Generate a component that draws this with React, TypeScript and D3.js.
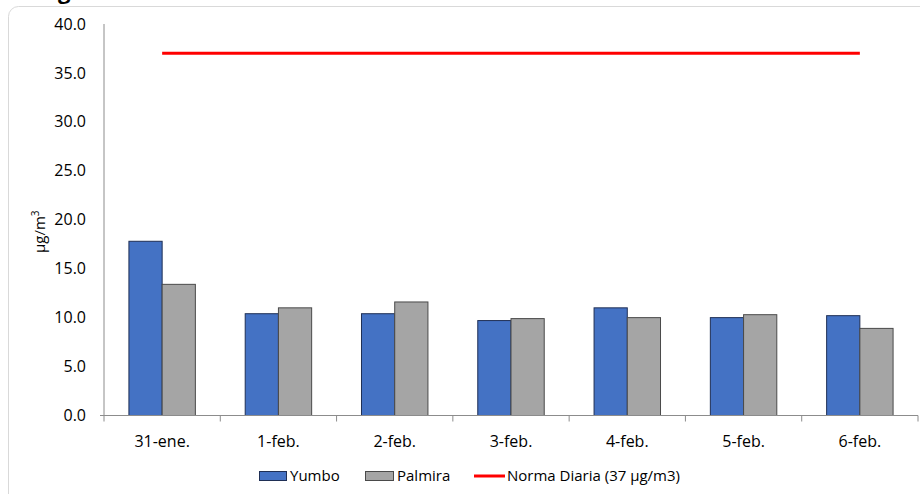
import React from "react";
import * as d3 from "d3";

const categories = ["31-ene.", "1-feb.", "2-feb.", "3-feb.", "4-feb.", "5-feb.", "6-feb."];
const yumbo = [17.8, 10.4, 10.4, 9.7, 11.0, 10.0, 10.2];
const palmira = [13.4, 11.0, 11.6, 9.9, 10.0, 10.3, 8.9];
const norma = [37, 37, 37, 37, 37, 37, 37];
const yTicks = [0, 5, 10, 15, 20, 25, 30, 35, 40];
const seriesNames = ["Yumbo", "Palmira", "Norma Diaria (37 µg/m3)"];

const W = 920;
const H = 494;
const left = 104;
const right = 918;
const top = 24;
const bottom = 415.5;
const font = "Open Sans, Noto Sans, sans-serif";

export default function App() {
  const x = d3.scaleBand<string>().domain(categories).range([left, right]).paddingInner(0).paddingOuter(0);
  const y = d3.scaleLinear().domain([0, 40]).range([bottom, top]);
  const bw = x.bandwidth();
  const barW = bw / 3.5;
  const line = d3
    .line<number>()
    .x((_, i) => (x(categories[i]) as number) + bw / 2)
    .y((d) => y(d));

  return (
    <svg
      width={W}
      height={H}
      style={{ position: "absolute", left: 0, top: 0, background: "#fff" }}
      fontFamily={font}
    >
      <rect x={8.5} y={6.5} width={940} height={520} rx={10} fill="#fff" stroke="#d9d9d9" strokeWidth={1} />
      <text x={58} y={-1} fontSize={22} fontWeight="bold" fill="#000">g</text>

      {/* y ticks */}
      {yTicks.map((t) => (
        <text key={t} x={86} y={y(t)} dy="0.35em" textAnchor="end" fontSize={16} fill="#000">
          {t.toFixed(1)}
        </text>
      ))}
      <text transform={`translate(45,${(top + bottom) / 2 + 12}) rotate(-90)`} textAnchor="middle" fontSize={15} fill="#000">
        µg/m<tspan dy={-6} fontSize={10}>3</tspan>
      </text>

      {/* bars */}
      {categories.map((c, i) => {
        const x0 = (x(c) as number) + (bw - 2 * barW) / 2;
        return (
          <g key={c}>
            <rect x={x0} y={y(yumbo[i])} width={barW} height={bottom - y(yumbo[i])} fill="#4472C4" stroke="#1f2f55" strokeWidth={1} />
            <rect x={x0 + barW} y={y(palmira[i])} width={barW} height={bottom - y(palmira[i])} fill="#A5A5A5" stroke="#4a4a4a" strokeWidth={1} />
          </g>
        );
      })}

      {/* axes */}
      <line x1={left} x2={left} y1={top} y2={bottom} stroke="#8c8c8c" strokeWidth={1} />
      <line x1={left - 4} x2={left} y1={bottom} y2={bottom} stroke="#8c8c8c" strokeWidth={1} />
      <line x1={left} x2={right} y1={bottom} y2={bottom} stroke="#8c8c8c" strokeWidth={1.2} />
      {categories.map((c) => (
        <line key={c} x1={x(c) as number} x2={x(c) as number} y1={bottom} y2={bottom + 6} stroke="#8c8c8c" />
      ))}
      <line x1={right} x2={right} y1={bottom} y2={bottom + 6} stroke="#8c8c8c" />
      {categories.map((c) => (
        <text key={c} x={(x(c) as number) + bw / 2} y={441} dy="0.35em" textAnchor="middle" fontSize={16} fill="#000">
          {c}
        </text>
      ))}

      {/* norma line */}
      <path d={line(norma) || ""} fill="none" stroke="#FF0000" strokeWidth={3} />

      {/* legend */}
      <rect x={259.5} y={471.5} width={27} height={9} fill="#4472C4" stroke="#1f2f55" />
      <text x={290} y={476} dy="0.35em" fontSize={15} fill="#000">{seriesNames[0]}</text>
      <rect x={365.5} y={471.5} width={28} height={9} fill="#A5A5A5" stroke="#4a4a4a" />
      <text x={397} y={476} dy="0.35em" fontSize={15} fill="#000">{seriesNames[1]}</text>
      <line x1={474} x2={505} y1={476} y2={476} stroke="#FF0000" strokeWidth={3} />
      <text x={507} y={476} dy="0.35em" fontSize={15} fill="#000">{seriesNames[2]}</text>
    </svg>
  );
}
